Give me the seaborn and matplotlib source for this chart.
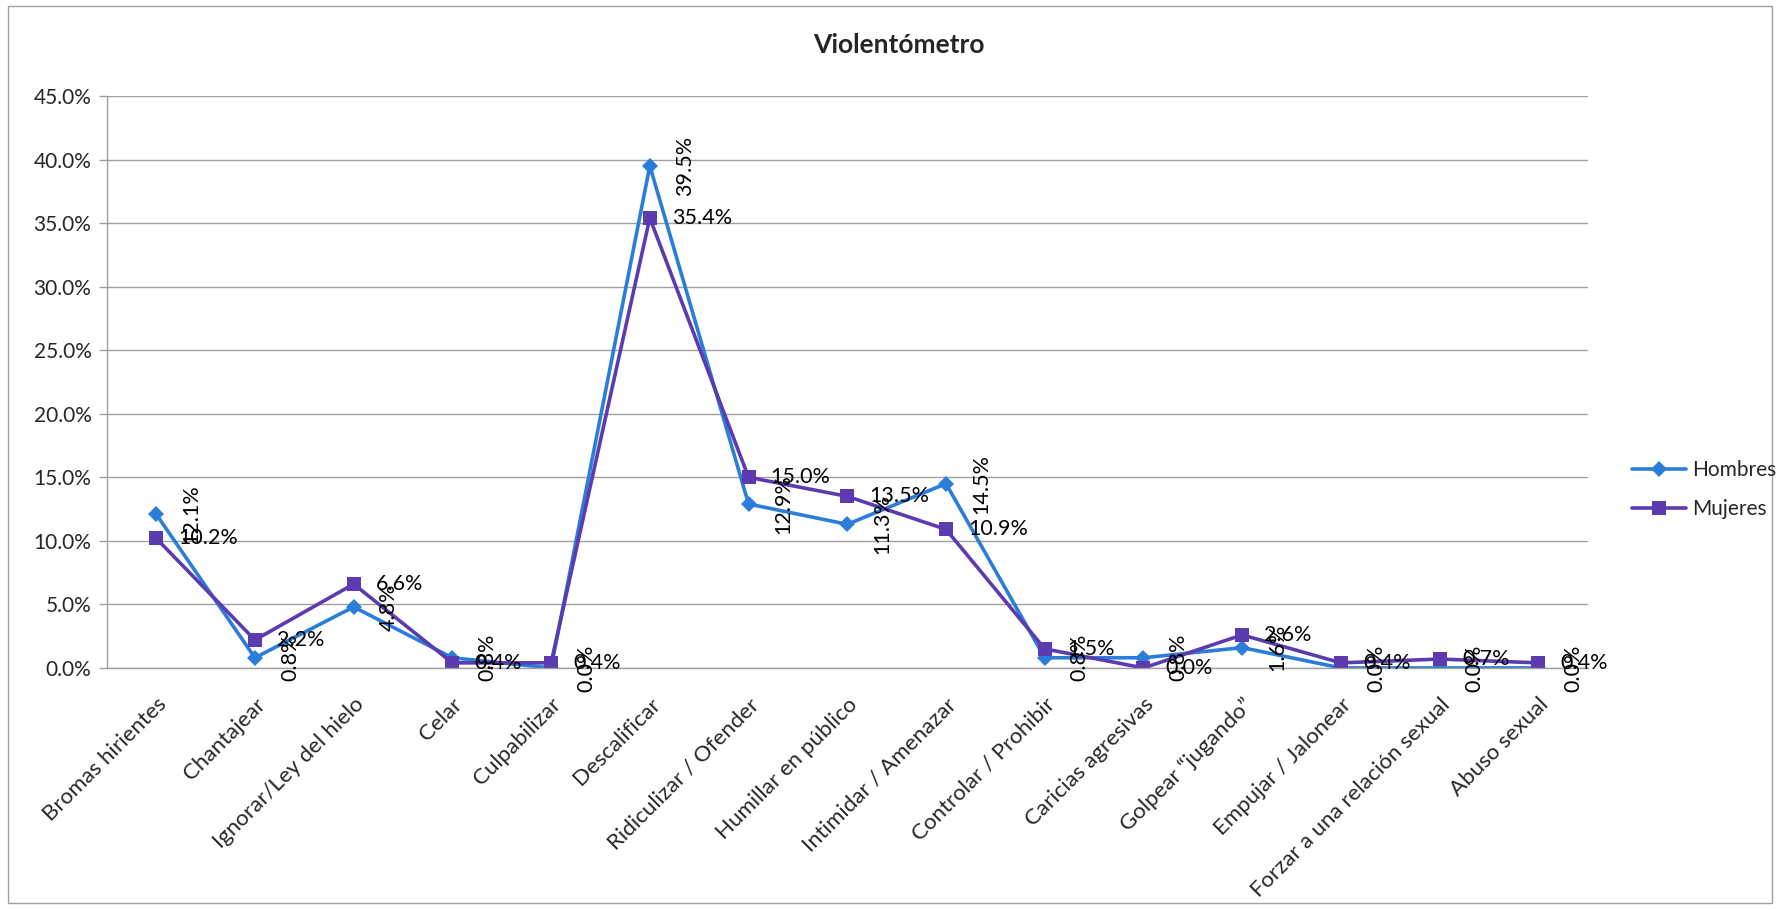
import numpy as np
import pandas as pd
import matplotlib
matplotlib.use("Agg")
import matplotlib.pyplot as plt
import seaborn as sns
from matplotlib.patches import Rectangle

categorias = [
    "Bromas hirientes", "Chantajear", "Ignorar/Ley del hielo", "Celar",
    "Culpabilizar", "Descalificar", "Ridiculizar / Ofender",
    "Humillar en público", "Intimidar / Amenazar", "Controlar / Prohibir",
    "Caricias agresivas", "Golpear \u201cjugando\u201d", "Empujar / Jalonear",
    "Forzar a una relación sexual", "Abuso sexual",
]
hombres = [12.1, 0.8, 4.8, 0.8, 0.0, 39.5, 12.9, 11.3, 14.5, 0.8, 0.8, 1.6, 0.0, 0.0, 0.0]
mujeres = [10.2, 2.2, 6.6, 0.4, 0.4, 35.4, 15.0, 13.5, 10.9, 1.5, 0.0, 2.6, 0.4, 0.7, 0.4]
series = ["Hombres", "Mujeres"]
yticks = [0, 5, 10, 15, 20, 25, 30, 35, 40, 45]

colores = {"Hombres": "#2A7DD9", "Mujeres": "#5B3BAF"}
marcadores = {"Hombres": "D", "Mujeres": "s"}

sns.set_theme(style="white")
plt.rcParams["font.family"] = ["Lato", "DejaVu Sans"]
fs = 15

pos = np.arange(len(categorias))
df = pd.concat([
    pd.DataFrame({"pos": pos, "valor": hombres, "Sexo": "Hombres"}),
    pd.DataFrame({"pos": pos, "valor": mujeres, "Sexo": "Mujeres"}),
])

fig = plt.figure(figsize=(17.8, 9.1), dpi=100)
ax = fig.add_axes([0.060, 0.266, 0.832, 0.6285])

for s in series:
    d = df[df["Sexo"] == s]
    sns.lineplot(data=d, x="pos", y="valor", color=colores[s], marker=marcadores[s],
                 markersize=8.5 if s == "Hombres" else 10, markeredgewidth=0,
                 linewidth=2.6, label=s, ax=ax, sort=False)

# etiquetas de datos
for i, v in enumerate(hombres):
    ax.annotate(f"{v:.1f}%", (i, v), xytext=(18, 0), textcoords="offset points",
                rotation=90, ha="left", va="center", fontsize=15.5, color="black")
for i, v in enumerate(mujeres):
    ax.annotate(f"{v:.1f}%", (i, v), xytext=(16, 0), textcoords="offset points",
                ha="left", va="center", fontsize=15.5, color="black")

ax.set_xlim(-0.5, len(categorias) - 0.5)
ax.set_ylim(0, 45)
ax.set_yticks(yticks)
ax.set_yticklabels([f"{t:.1f}%" for t in yticks], fontsize=fs)
ax.set_xticks(pos)
ax.set_xticklabels(categorias, rotation=45, ha="right", rotation_mode="anchor", fontsize=16)
ax.set_xticks(np.arange(-0.5, len(categorias), 1), minor=True)
ax.tick_params(axis="x", which="major", length=0, pad=19)
ax.tick_params(axis="x", which="minor", length=6, color="#A0A0A0", width=1, direction="out")
ax.tick_params(axis="y", length=6, color="#A0A0A0", width=1, direction="out", left=True, pad=5)
ax.yaxis.grid(True, color="#A0A0A0", linewidth=1)
ax.xaxis.grid(False)
for side in ["top", "right"]:
    ax.spines[side].set_visible(False)
for side in ["left", "bottom"]:
    ax.spines[side].set_color("#A0A0A0")
    ax.spines[side].set_linewidth(1)
ax.set_xlabel("")
ax.set_ylabel("")

handles, labels = ax.get_legend_handles_labels()
ax.get_legend().remove()
fig.legend(handles, labels, loc="center left", bbox_to_anchor=(0.917, 0.462),
           frameon=False, fontsize=fs, handlelength=2.6, labelspacing=0.9,
           handletextpad=0.25, borderaxespad=0, borderpad=0)

fig.text(0.505, 0.951, "Violentómetro", ha="center", va="center",
         fontsize=19, fontweight="bold")

fig.patches.append(Rectangle((0.0045, 0.008), 0.991, 0.985, transform=fig.transFigure,
                             fill=False, edgecolor="#A0A0A0", linewidth=1))

fig.savefig("out.png", dpi=100)
